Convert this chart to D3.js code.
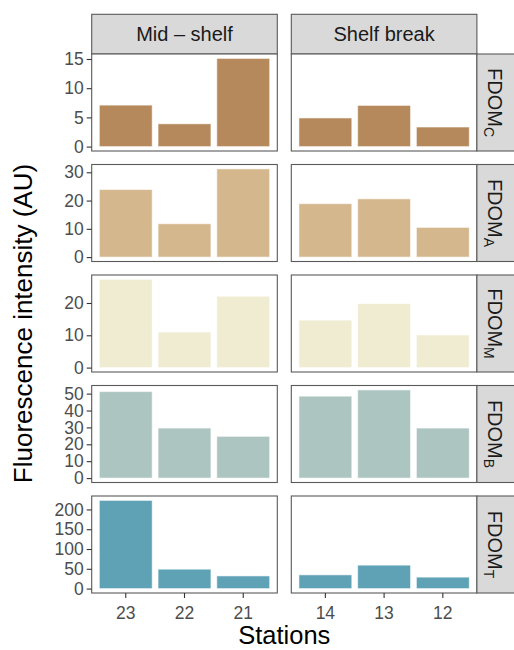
<!DOCTYPE html>
<html>
<head>
<meta charset="utf-8">
<script src="https://cdn.jsdelivr.net/npm/d3@7"></script>
<style>
  html, body { margin: 0; padding: 0; background: #ffffff; }
  svg { display: block; font-family: "Liberation Sans", Arial, Helvetica, sans-serif; }
</style>
</head>
<body>
<svg id="chart" width="514" height="650"></svg>
<script>
// Facet columns (regions) and the stations sampled in each
const regions = ["Mid – shelf", "Shelf break"];
const midStations = ["23", "22", "21"];
const shelfStations = ["14", "13", "12"];

// Facet rows: FDOM components (subscript letter)
const components = ["C", "A", "M", "B", "T"];
const componentColors = ["#b5895b", "#d5b78e", "#f0ecd1", "#adc5c1", "#5fa2b6"];

// Fluorescence intensity (AU), one array per component, stations in order
const midValues = [
  [7.1, 3.9, 15.1],
  [23.9, 11.8, 31.2],
  [27.3, 11.0, 22.1],
  [51.2, 29.6, 24.7],
  [222.8, 49.0, 32.0]
];
const shelfValues = [
  [4.9, 7.05, 3.35],
  [18.9, 20.6, 10.5],
  [14.7, 19.8, 10.1],
  [48.5, 52.2, 29.6],
  [34.7, 59.2, 28.9]
];

// Y-axis tick labels for each row
const yTicks = [
  [0, 5, 10, 15],
  [0, 10, 20, 30],
  [0, 10, 20],
  [0, 10, 20, 30, 40, 50],
  [0, 50, 100, 150, 200]
];

const xTitle = "Stations";
const yTitle = "Fluorescence intensity (AU)";

// Layout
const svg = d3.select("#chart");
const colX = [91.7, 291.3];
const panelW = 185.6;
const stripTop = 14.3, stripH = 39.7;
const rowTop0 = 54, rowStep = 110.5, panelH = 97;
const rightStripW = 40;

const tickFont = 17.5, stripFont = 20, xTitleFont = 25.5, yTitleFont = 26;
const borderColor = "#5a5a5a";

const columns = [
  { label: regions[0], stations: midStations, values: midValues },
  { label: regions[1], stations: shelfStations, values: shelfValues }
];

// Top strips
columns.forEach((col, c) => {
  const g = svg.append("g").attr("transform", `translate(${colX[c]},${stripTop})`);
  g.append("rect")
    .attr("width", panelW).attr("height", stripH)
    .attr("fill", "#d9d9d9").attr("stroke", borderColor).attr("stroke-width", 1.1);
  g.append("text")
    .attr("x", panelW / 2).attr("y", stripH / 2)
    .attr("dy", "0.35em")
    .attr("text-anchor", "middle")
    .attr("font-size", stripFont)
    .attr("fill", "#1a1a1a")
    .text(col.label);
});

components.forEach((comp, r) => {
  const top = rowTop0 + r * rowStep;
  const maxVal = d3.max([...midValues[r], ...shelfValues[r]]);
  const y = d3.scaleLinear()
    .domain([-0.05 * maxVal, 1.05 * maxVal])
    .range([panelH, 0]);

  columns.forEach((col, c) => {
    const x = d3.scaleBand()
      .domain(col.stations)
      .range([0, panelW])
      .paddingInner(0.1)
      .paddingOuter(0.13);

    const g = svg.append("g").attr("transform", `translate(${colX[c]},${top})`);

    g.append("rect")
      .attr("width", panelW).attr("height", panelH)
      .attr("fill", "#ffffff");

    g.selectAll("rect.bar")
      .data(col.values[r].map((v, i) => ({ station: col.stations[i], value: v })))
      .join("rect")
      .attr("class", "bar")
      .attr("x", d => x(d.station))
      .attr("width", x.bandwidth())
      .attr("y", d => y(d.value))
      .attr("height", d => y(0) - y(d.value))
      .attr("fill", componentColors[r])
      .attr("stroke", "#ffffff")
      .attr("stroke-opacity", 0.55)
      .attr("stroke-width", 1);

    g.append("rect")
      .attr("width", panelW).attr("height", panelH)
      .attr("fill", "none")
      .attr("stroke", borderColor).attr("stroke-width", 1.1);

    if (c === 0) {
      const ax = g.append("g")
        .call(d3.axisLeft(y).tickValues(yTicks[r]).tickSize(5).tickPadding(3));
      ax.select(".domain").remove();
      ax.selectAll(".tick line").attr("stroke", "#333333").attr("stroke-width", 1.1);
      ax.selectAll(".tick text")
        .attr("font-size", tickFont)
        .attr("font-family", null)
        .attr("fill", "#4d4d4d");
    }

    if (r === components.length - 1) {
      const ax = g.append("g")
        .attr("transform", `translate(0,${panelH})`)
        .call(d3.axisBottom(x).tickSize(5).tickPadding(9));
      ax.select(".domain").remove();
      ax.selectAll(".tick line").attr("stroke", "#333333").attr("stroke-width", 1.1);
      ax.selectAll(".tick text")
        .attr("font-size", tickFont)
        .attr("font-family", null)
        .attr("fill", "#4d4d4d");
    }
  });

  // Right-hand strip with the component label
  const s = svg.append("g")
    .attr("transform", `translate(${colX[1] + panelW},${top})`);
  s.append("rect")
    .attr("width", rightStripW).attr("height", panelH)
    .attr("fill", "#d9d9d9").attr("stroke", borderColor).attr("stroke-width", 1.1);
  const t = s.append("text")
    .attr("transform", `translate(${rightStripW / 2 - 2},${panelH / 2}) rotate(90)`)
    .attr("text-anchor", "middle")
    .attr("dy", "0.35em")
    .attr("font-size", stripFont)
    .attr("fill", "#1a1a1a");
  t.append("tspan").text("FDOM");
  t.append("tspan")
    .attr("font-size", stripFont * 0.7)
    .attr("dy", "0.3em")
    .text(comp);
});

// Axis titles
const plotLeft = colX[0], plotRight = colX[1] + panelW;
const plotTop = rowTop0, plotBottom = rowTop0 + 4 * rowStep + panelH;

svg.append("text")
  .attr("x", (plotLeft + plotRight) / 2)
  .attr("y", 644)
  .attr("text-anchor", "middle")
  .attr("font-size", xTitleFont)
  .attr("fill", "#000000")
  .text(xTitle);

svg.append("text")
  .attr("transform", `translate(32,${(plotTop + plotBottom) / 2}) rotate(-90)`)
  .attr("text-anchor", "middle")
  .attr("font-size", yTitleFont)
  .attr("fill", "#000000")
  .text(yTitle);
</script>
</body>
</html>
